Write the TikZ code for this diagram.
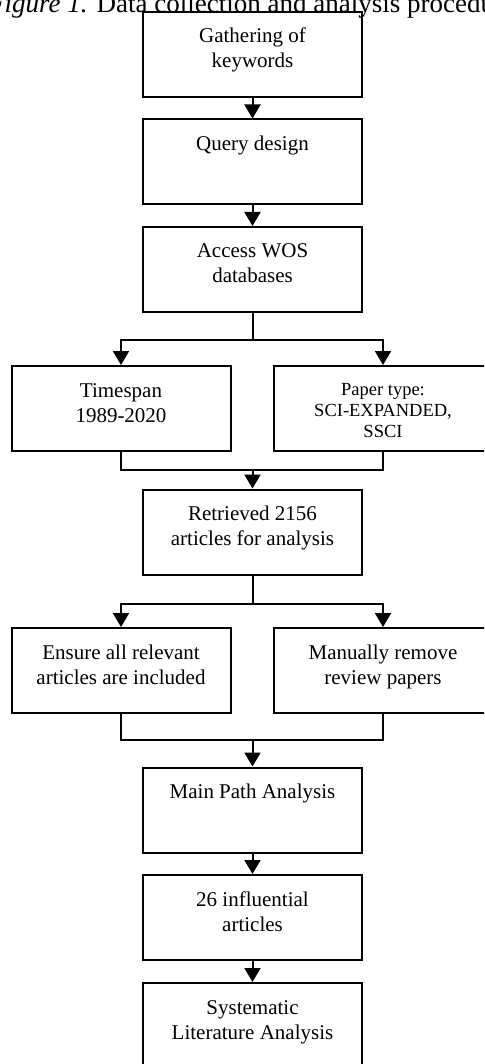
\documentclass[tikz,border=0pt]{standalone}
\usepackage{fontspec}
\setmainfont{Liberation Serif}
\usetikzlibrary{arrows.meta,calc}

% text set from the top of a box of fixed height
\newcommand{\boxtext}[2][31pt]{\parbox[c][85pt][t]{215pt}{\centering\rule{0pt}{#1}#2}}

\begin{document}
\begin{tikzpicture}[x=1pt,y=-1pt,
                    every node/.style={font=\fontsize{21pt}{25pt}\selectfont},
                    stepbox/.style={draw, line width=2pt, inner sep=0pt,
                                    minimum width=219pt, minimum height=85pt},
                    ar/.style={-{Triangle[width=16pt,length=14pt]},line width=2pt},
                    ln/.style={line width=2pt}]
      \useasboundingbox (0,0) rectangle (484,1064);
      \clip (0,0) rectangle (484,1064);
      \node[anchor=base west, font=\fontsize{27pt}{30pt}\selectfont, inner sep=0pt]
        (title) at (-12,13) {\textit{Figure 1.} Data collection and analysis procedure};
      \node[stepbox] (b1) at (252.5,54.5)  {\boxtext{Gathering of\\keywords}};
      \node[stepbox] (b2) at (252.5,162)   {\boxtext{Query design}};
      \node[stepbox] (b3) at (252.5,269.5) {\boxtext{Access WOS\\databases}};
      \node[stepbox] (t1) at (121,408.5)   {\boxtext{Timespan\\1989-2020}};
      \node[stepbox, font=\fontsize{18.5pt}{21pt}\selectfont]
        (t2) at (383,408.5) {\boxtext[29pt]{Paper type:\\SCI-EXPANDED,\\SSCI}};
      \node[stepbox] (b4) at (252.5,532)   {\boxtext{Retrieved 2156\\articles for analysis}};
      \node[stepbox] (f1) at (121,670.5)   {\boxtext{Ensure all relevant\\articles are included}};
      \node[stepbox] (f2) at (383,670.5)   {\boxtext{Manually remove\\review papers}};
      \node[stepbox] (b5) at (252.5,810)   {\boxtext{Main Path Analysis}};
      \node[stepbox] (b6) at (252.5,917.5) {\boxtext{26 influential\\articles}};
      \node[stepbox] (b7) at (252.5,1025.5){\boxtext{Systematic\\Literature Analysis}};
      \coordinate (m1) at (252.5,470);
      \coordinate (m2) at (252.5,740);
      \draw[ar](b1)--(b2); \draw[ar](b2)--(b3);
      \draw[ar](b3.south)--++(0,27)-|(t1.north); \draw[ar](b3.south)--++(0,27)-|(t2.north);
      \draw[ln](t1.south)|-(m1)-|(t2.south); \draw[ar](m1)--(b4);
      \draw[ar](b4.south)--++(0,28)-|(f1.north); \draw[ar](b4.south)--++(0,28)-|(f2.north);
      \draw[ln](f1.south)|-(m2)-|(f2.south); \draw[ar](m2)--(b5);
      \draw[ar](b5)--(b6); \draw[ar](b6)--(b7);
    \end{tikzpicture}
\end{document}
